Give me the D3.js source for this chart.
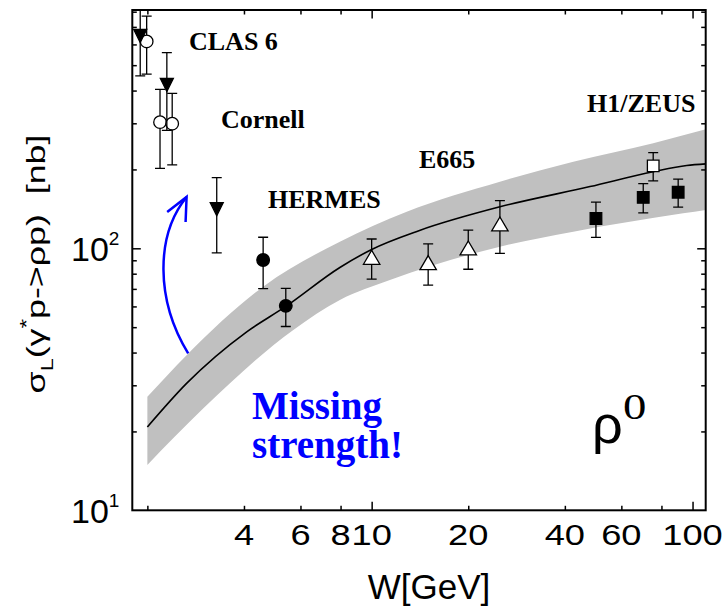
<!DOCTYPE html>
<html>
<head>
<meta charset="utf-8">
<script src="https://cdn.jsdelivr.net/npm/d3@7"></script>
<style>
body { margin: 0; background: #fff; }
svg { display: block; }
</style>
</head>
<body>
<svg id="chart" width="723" height="608"></svg>
<script>
// model curve and its uncertainty band (W in GeV, sigma in nb)
var curveW = [2.0, 2.65, 4.08, 5.40, 7.96, 10.0, 14.1, 25.1, 47.9, 75.4, 95.9, 110];
var curveSigma = [20.8, 30.5, 48.0, 60.0, 84.5, 99, 117, 144, 172, 196, 207, 210];
var bandUpW = [2.0, 2.65, 4.59, 7.96, 12.86, 25.1, 42.5, 75.4, 110];
var bandUpSigma = [27.1, 39.1, 71.4, 106, 138, 179.6, 214, 251.7, 284.6];
var bandLowW = [2.0, 2.99, 5.70, 7.96, 11.4, 25.1, 42.5, 93.5, 110];
var bandLowSigma = [14.9, 24.5, 48.8, 63.5, 75.7, 101.4, 115.7, 136, 140];

// measurements
var clasW = [1.90, 2.30, 3.29], clasSigma = [646, 420, 141], clasErr = [191, 138, 45];
var cornellW = [1.99, 2.19, 2.39], cornellSigma = [616, 303, 299], cornellErr = [154, 101, 91];
var hermesW = [4.59, 5.40], hermesSigma = [90.2, 60.3], hermesErr = [20, 10];
var e665W = [10.0, 15.0, 20.0, 25.1], e665Sigma = [92.4, 88.2, 100.3, 123.9], e665Err = [16.1, 15.8, 17.1, 28.2];
var zeusW = [50.0, 70.2, 90.2], zeusSigma = [130, 156.5, 163.6], zeusErr = [20, 20, 20];
var h1W = [75.4], h1Sigma = [206.4], h1Err = [25.4];

// ticks
var xMajor = [10, 100], xMinor = [2, 4, 6, 8, 20, 40, 60, 80];
var xLabels = [4, 6, 8, 10, 20, 40, 60, 100];
var yMajor = [100], yMinor = [20, 30, 40, 50, 60, 70, 80, 90, 200, 300, 400, 500, 600, 700, 800];
var yLabels = [10, 100];

function main() {
  var svg = d3.select("#chart");
  var pL = 132.3, pR = 705.7, pT = 10, pB = 510.3;

  var x = d3.scaleLog().domain([1.795, 109.9]).range([pL, pR]);
  var y = d3.scaleLog().domain([10, 812]).range([pB, pT]);

  svg.append("rect").attr("width", 723).attr("height", 608).attr("fill", "#fff");

  svg.append("defs").append("clipPath").attr("id", "plot")
    .append("rect").attr("x", pL).attr("y", pT).attr("width", pR - pL).attr("height", pB - pT);

  var plot = svg.append("g").attr("clip-path", "url(#plot)");

  var line = d3.line().x(function(d) { return x(d[0]); }).y(function(d) { return y(d[1]); })
    .curve(d3.curveMonotoneX);

  // band
  var up = d3.zip(bandUpW, bandUpSigma);
  var low = d3.zip(bandLowW, bandLowSigma).reverse();
  plot.append("path")
    .attr("d", line(up) + "L" + line(low).slice(1) + "Z")
    .attr("fill", "#c0c0c0");

  plot.append("path")
    .attr("d", line(d3.zip(curveW, curveSigma)))
    .attr("fill", "none").attr("stroke", "#000").attr("stroke-width", 1.6);

  // error bars + markers
  function drawSet(W, S, E, shape, fill) {
    var g = plot.append("g");
    W.forEach(function(w, i) {
      var px = x(w), y1 = y(S[i] + E[i]), y0 = y(Math.max(S[i] - E[i], 10.5));
      g.append("path")
        .attr("d", "M" + px + "," + y1 + "V" + y0 + "M" + (px - 5) + "," + y1 + "H" + (px + 5) + "M" + (px - 5) + "," + y0 + "H" + (px + 5))
        .attr("stroke", "#000").attr("stroke-width", 1.3).attr("fill", "none");
    });
    W.forEach(function(w, i) {
      g.append("path")
        .attr("transform", "translate(" + x(w) + "," + y(S[i]) + ")")
        .attr("d", shape)
        .attr("fill", fill).attr("stroke", "#000").attr("stroke-width", 1.3);
    });
  }

  var downTri = "M-6.5,-6.5L6.5,-6.5L0,6.5Z";
  var upTri = "M-8.2,7L8.2,7L0,-7Z";
  var circ = d3.symbol().type(d3.symbolCircle).size(Math.PI * 6.3 * 6.3)();
  var sq = "M-5.8,-5.8H5.8V5.8H-5.8Z";

  drawSet(cornellW, cornellSigma, cornellErr, circ, "#fff");
  drawSet(clasW, clasSigma, clasErr, downTri, "#000");
  drawSet(hermesW, hermesSigma, hermesErr, circ, "#000");
  drawSet(e665W, e665Sigma, e665Err, upTri, "#fff");
  drawSet(zeusW, zeusSigma, zeusErr, sq, "#000");
  drawSet(h1W, h1Sigma, h1Err, sq, "#fff");

  // axes ticks (inward, on all four sides)
  function tickAxis(axisFn, scale, vals, len, tx, ty) {
    svg.append("g").attr("transform", "translate(" + tx + "," + ty + ")")
      .call(axisFn(scale).tickValues(vals).tickSize(-len).tickSizeOuter(0).tickFormat(""))
      .call(function(g) { g.select(".domain").remove(); })
      .selectAll("line").attr("stroke-width", 1.5);
  }
  tickAxis(d3.axisBottom, x, xMinor, 4.5, 0, pB);
  tickAxis(d3.axisBottom, x, xMajor, 8.5, 0, pB);
  tickAxis(d3.axisTop, x, xMinor, 4.5, 0, pT);
  tickAxis(d3.axisTop, x, xMajor, 8.5, 0, pT);
  tickAxis(d3.axisLeft, y, yMinor, 4.5, pL, 0);
  tickAxis(d3.axisLeft, y, yMajor, 8.5, pL, 0);
  tickAxis(d3.axisRight, y, yMinor, 4.5, pR, 0);
  tickAxis(d3.axisRight, y, yMajor, 8.5, pR, 0);

  svg.append("rect")
    .attr("x", pL).attr("y", pT).attr("width", pR - pL).attr("height", pB - pT)
    .attr("fill", "none").attr("stroke", "#000").attr("stroke-width", 2);

  var sans = "'Liberation Sans', Arial, sans-serif";
  var serif = "'Liberation Serif', 'Times New Roman', serif";

  // tick labels
  xLabels.forEach(function(v) {
    svg.append("text")
      .attr("transform", "translate(" + x(v) + ",545) scale(1.25,1)")
      .attr("text-anchor", "middle")
      .attr("font-family", sans).attr("font-size", 29)
      .text(v);
  });

  yLabels.forEach(function(v) {
    var t = svg.append("text")
      .attr("x", 71).attr("y", y(v) + 13)
      .attr("font-family", sans).attr("font-size", 34);
    t.append("tspan").text("10");
    t.append("tspan").attr("font-size", 19).attr("dy", -16).text(Math.round(Math.log10(v)));
  });

  // axis titles
  svg.append("text")
    .attr("x", 429).attr("y", 599)
    .attr("text-anchor", "middle")
    .attr("font-family", sans).attr("font-size", 35)
    .text("W[GeV]");

  var yt = svg.append("text")
    .attr("text-anchor", "middle")
    .attr("font-family", sans).attr("font-size", 26);
  yt.append("tspan").text("σ");
  yt.append("tspan").attr("font-size", 17).attr("dy", 8).text("L");
  yt.append("tspan").attr("dy", -8).text("(γ");
  yt.append("tspan").attr("font-size", 18).attr("dy", -12).text("*");
  yt.append("tspan").attr("dy", 12).text("p->ρp)\u00a0\u00a0[nb]");
  var ytLen = yt.node().getComputedTextLength();
  yt.attr("transform", "translate(45,264) rotate(-90) scale(" + (259 / ytLen) + ",1)");

  // experiment labels
  var labels = [
    ["CLAS 6", 189, 50],
    ["Cornell", 221, 128],
    ["HERMES", 268, 208],
    ["E665", 419, 168],
    ["H1/ZEUS", 587, 112]
  ];
  labels.forEach(function(l) {
    svg.append("text").attr("x", l[1]).attr("y", l[2])
      .attr("font-family", serif).attr("font-weight", "bold").attr("font-size", 26)
      .text(l[0]);
  });

  svg.append("text").attr("x", 252).attr("y", 419)
    .attr("font-family", serif).attr("font-weight", "bold").attr("font-size", 39)
    .attr("fill", "#0000ff").text("Missing");
  svg.append("text").attr("x", 252).attr("y", 458)
    .attr("font-family", serif).attr("font-weight", "bold").attr("font-size", 39)
    .attr("fill", "#0000ff").text("strength!");

  // rho^0
  svg.append("text").attr("x", 592).attr("y", 443)
    .attr("font-family", sans).attr("font-size", 54).text("ρ");
  svg.append("text").attr("transform", "translate(623,419) scale(1.3,1)")
    .attr("font-family", serif).attr("font-size", 36).text("0");

  // arrow
  var a0 = [x(2.68), y(39.7)], c1 = [x(2.12), y(63.5)], c2 = [x(2.12), y(112)], a1 = [x(2.65), y(157)];
  svg.append("path")
    .attr("d", "M" + a0 + "C" + c1 + " " + c2 + " " + a1)
    .attr("fill", "none").attr("stroke", "#0000ff").attr("stroke-width", 2.5);
  svg.append("path")
    .attr("d", "M" + (a1[0] - 19.4) + "," + (a1[1] + 15) + "L" + a1 + "L" + (a1[0] - 1) + "," + (a1[1] + 25))
    .attr("fill", "none").attr("stroke", "#0000ff").attr("stroke-width", 2.5);
}

main();
</script>
</body>
</html>
